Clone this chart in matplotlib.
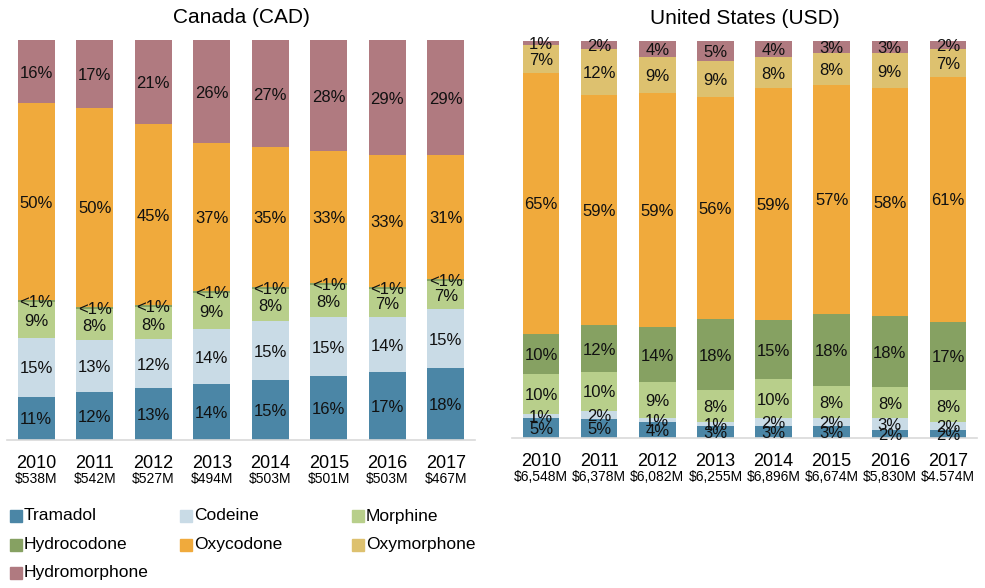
import matplotlib
matplotlib.use("Agg")
import matplotlib.pyplot as plt
from matplotlib.patches import Rectangle
import numpy as np

plt.rcParams['font.family'] = ['Liberation Sans', 'DejaVu Sans']

years = ["2010", "2011", "2012", "2013", "2014", "2015", "2016", "2017"]
drugs = ["Tramadol", "Codeine", "Morphine", "Hydrocodone", "Oxycodone", "Oxymorphone", "Hydromorphone"]
colors = ["#4b86a6", "#c9dbe6", "#b8cf8b", "#86a162", "#f0aa3c", "#ddc16f", "#b07a80"]

ca_totals = ["$538M", "$542M", "$527M", "$494M", "$503M", "$501M", "$503M", "$467M"]
us_totals = ["$6,548M", "$6,378M", "$6,082M", "$6,255M", "$6,896M", "$6,674M", "$5,830M", "$4.574M"]

# Canada (% share); 0.5 stands for "<1%"
ca_tramadol = [11, 12, 13, 14, 15, 16, 17, 18]
ca_codeine = [15, 13, 12, 14, 15, 15, 14, 15]
ca_morphine = [9, 8, 8, 9, 8, 8, 7, 7]
ca_hydrocodone = [0.5, 0.5, 0.5, 0.5, 0.5, 0.5, 0.5, 0.5]
ca_oxycodone = [50, 50, 45, 37, 35, 33, 33, 31]
ca_oxymorphone = [0, 0, 0, 0, 0, 0, 0, 0]
ca_hydromorphone = [16, 17, 21, 26, 27, 28, 29, 29]

# United States (% share)
us_tramadol = [5, 5, 4, 3, 3, 3, 2, 2]
us_codeine = [1, 2, 1, 1, 2, 2, 3, 2]
us_morphine = [10, 10, 9, 8, 10, 8, 8, 8]
us_hydrocodone = [10, 12, 14, 18, 15, 18, 18, 17]
us_oxycodone = [65, 59, 59, 56, 59, 57, 58, 61]
us_oxymorphone = [7, 12, 9, 9, 8, 8, 9, 7]
us_hydromorphone = [1, 2, 4, 5, 4, 3, 3, 2]

ca = [ca_tramadol, ca_codeine, ca_morphine, ca_hydrocodone, ca_oxycodone, ca_oxymorphone, ca_hydromorphone]
us = [us_tramadol, us_codeine, us_morphine, us_hydrocodone, us_oxycodone, us_oxymorphone, us_hydromorphone]

W, H = 985, 588
fig = plt.figure(figsize=(W / 100, H / 100), dpi=100)


def fr(x0, y0, x1, y1):
    return [x0 / W, 1 - y1 / H, (x1 - x0) / W, (y1 - y0) / H]


def draw(ax, series, totals, title):
    data = np.array(series, dtype=float)
    share = data / data.sum(axis=0) * 100
    x = np.arange(len(years))
    bottom = np.zeros(len(years))
    for i, (vals, raw) in enumerate(zip(share, data)):
        ax.bar(x, vals, bottom=bottom, width=0.63, color=colors[i], linewidth=0)
        for xi, v, b, r in zip(x, vals, bottom, raw):
            if r <= 0:
                continue
            lab = "<1%" if r < 1 else f"{r:.0f}%"
            ax.text(xi, b + v / 2 - 0.4, lab, ha="center", va="center", fontsize=12, color="#111111")
        bottom += vals
    ax.set_xlim(-0.5, len(years) - 0.5)
    ax.set_ylim(0, 100)
    for s in ["top", "right", "left"]:
        ax.spines[s].set_visible(False)
    ax.spines["bottom"].set_color("#d9d9d9")
    ax.spines["bottom"].set_linewidth(1.2)
    ax.set_yticks([])
    ax.set_xticks([])
    tr = ax.get_xaxis_transform()
    for xi, yr, tot in zip(x, years, totals):
        ax.text(xi, -0.058, yr, transform=tr, ha="center", va="center", fontsize=13)
        ax.text(xi, -0.097, tot, transform=tr, ha="center", va="center", fontsize=10)
    ax.set_title(title, fontsize=15, pad=12)


ax1 = fig.add_axes(fr(7, 40, 475, 440))
draw(ax1, ca, ca_totals, "Canada (CAD)")
ax2 = fig.add_axes(fr(512, 41, 977, 438))
draw(ax2, us, us_totals, "United States (USD)")

# legend, laid out row by row
col_x = [10, 180, 352]
row_y = [516, 545, 573]
for i, (name, c) in enumerate(zip(drugs, colors)):
    r, cidx = divmod(i, 3)
    x0, yc = col_x[cidx], row_y[r]
    fig.patches.append(Rectangle((x0 / W, 1 - (yc + 6) / H), 12 / W, 12 / H,
                                 transform=fig.transFigure, color=c, figure=fig))
    fig.text((x0 + 14) / W, 1 - yc / H, name, ha="left", va="center", fontsize=12.5)

fig.savefig("out.png", dpi=100)
